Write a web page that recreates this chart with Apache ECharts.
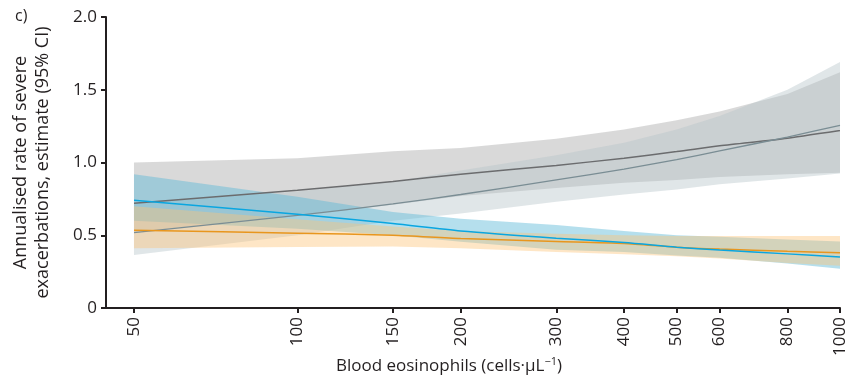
<!DOCTYPE html>
<html><head><meta charset="utf-8">
<script src="https://cdn.jsdelivr.net/npm/echarts@6/dist/echarts.min.js"></script>
<style>html,body{margin:0;padding:0;background:#fff}#c{width:850px;height:381px}</style>
</head><body><div id="c"></div>
<script>
// Blood eosinophils (cells/uL)
const eos = [50, 100, 150, 200, 300, 400, 500, 600, 800, 1000];
const xTicks = [50, 100, 150, 200, 300, 400, 500, 600, 800, 1000];
const yTicks = [0, 0.5, 1.0, 1.5, 2.0];

// dark gray group
const grayEst = [0.72, 0.81, 0.87, 0.92, 0.98, 1.03, 1.075, 1.115, 1.167, 1.22];
const grayLo  = [0.52, 0.64, 0.71, 0.77, 0.825, 0.86, 0.88, 0.90, 0.92, 0.93];
const grayHi  = [1.00, 1.03, 1.078, 1.10, 1.164, 1.226, 1.29, 1.35, 1.47, 1.62];
// slate gray group
const slateEst = [0.518, 0.636, 0.716, 0.78, 0.88, 0.955, 1.02, 1.08, 1.175, 1.255];
const slateLo  = [0.365, 0.50, 0.60, 0.65, 0.73, 0.78, 0.815, 0.85, 0.89, 0.925];
const slateHi  = [0.72, 0.80, 0.87, 0.945, 1.05, 1.135, 1.226, 1.32, 1.50, 1.69];
// blue group
const blueEst = [0.74, 0.644, 0.58, 0.53, 0.48, 0.45, 0.418, 0.398, 0.372, 0.35];
const blueLo  = [0.60, 0.545, 0.50, 0.455, 0.40, 0.385, 0.36, 0.345, 0.305, 0.27];
const blueHi  = [0.92, 0.765, 0.66, 0.614, 0.57, 0.53, 0.50, 0.49, 0.47, 0.457];
// orange group
const orangeEst = [0.534, 0.514, 0.50, 0.477, 0.457, 0.443, 0.418, 0.405, 0.39, 0.38];
const orangeLo  = [0.41, 0.42, 0.422, 0.41, 0.385, 0.37, 0.355, 0.34, 0.31, 0.29];
const orangeHi  = [0.70, 0.61, 0.56, 0.53, 0.51, 0.50, 0.495, 0.495, 0.495, 0.495];

const FONT = '"Open Sans"';
const TXT = '#231f20';
const FS = 17;

function band(name, lo, hi, color) {
  return {
    name: name + '_band', type: 'custom', silent: true, z: 1,
    data: eos.map((x, i) => [x, lo[i], hi[i]]),
    encode: { x: 0, y: [1, 2] },
    renderItem: function (params, api) {
      if (params.dataIndex !== 0) return null;
      const pts = [];
      for (let i = 0; i < eos.length; i++) pts.push(api.coord([eos[i], hi[i]]));
      for (let i = eos.length - 1; i >= 0; i--) pts.push(api.coord([eos[i], lo[i]]));
      return { type: 'polygon', shape: { points: pts }, style: { fill: color } };
    }
  };
}
function line(name, est, color, w) {
  return { name: name, type: 'line', symbol: 'none', silent: true, z: 5, smooth: 0.25,
    lineStyle: { color: color, width: w }, data: eos.map((x, i) => [x, est[i]]) };
}

const chart = echarts.init(document.getElementById('c'), null, { renderer: 'canvas' });
chart.setOption({
  animation: false,
  backgroundColor: '#fff',
  textStyle: { fontFamily: FONT },
  title: { text: 'c)', left: 10, top: 3, textStyle: { fontFamily: FONT, fontSize: 16, fontWeight: 'normal', color: TXT } },
  grid: { left: 106, right: 10, top: 17, bottom: 73, containLabel: false, outerBoundsMode: 'none' },
  xAxis: {
    type: 'log', logBase: 10, min: 44.4, max: 1000,
    axisLine: { lineStyle: { color: TXT, width: 2 } },
    axisTick: { show: true, length: 5, lineStyle: { color: TXT, width: 2 }, customValues: xTicks },
    axisLabel: { rotate: 90, margin: 9, fontSize: FS, color: TXT, fontFamily: FONT, customValues: xTicks,
      formatter: v => String(v) },
    minorTick: { show: false }, splitLine: { show: false },
    name: '{a|Blood eosinophils (cells·μL}{s|−1}{a|)}',
    nameLocation: 'middle', nameGap: 48, nameMoveOverlap: false,
    nameTextStyle: { padding: [0, 48, 0, 0], rich: {
      a: { fontSize: FS, color: TXT, fontFamily: FONT },
      s: { fontSize: 11, color: TXT, fontFamily: FONT, verticalAlign: 'top', padding: [0, 0, 9, 0] } } }
  },
  yAxis: {
    type: 'value', min: 0, max: 2, interval: 0.5,
    axisLine: { show: true, lineStyle: { color: TXT, width: 2 } },
    axisTick: { show: true, length: 5, lineStyle: { color: TXT, width: 2 } },
    axisLabel: { margin: 9, fontSize: FS, color: TXT, fontFamily: FONT,
      formatter: v => (v === 0 ? '0' : v.toFixed(1)) },
    splitLine: { show: false },
    name: 'Annualised rate of severe\nexacerbations, estimate (95% CI)',
    nameLocation: 'middle', nameRotate: 90, nameGap: 52, nameMoveOverlap: false,
    nameTextStyle: { fontSize: 18, lineHeight: 22, color: TXT, fontFamily: FONT, align: 'center' }
  },
  series: [
    band('gray', grayLo, grayHi, 'rgba(150,150,150,0.36)'),
    band('slate', slateLo, slateHi, 'rgba(180,195,200,0.42)'),
    band('blue', blueLo, blueHi, 'rgba(90,185,215,0.45)'),
    band('orange', orangeLo, orangeHi, 'rgba(253,196,120,0.42)'),
    line('grayLine', grayEst, '#6b6c6e', 1.5),
    line('slateLine', slateEst, '#7a8d94', 1.3),
    line('orangeLine', orangeEst, '#e8961e', 1.5),
    line('blueLine', blueEst, '#0aa6e0', 1.5)
  ]
});
</script></body></html>
